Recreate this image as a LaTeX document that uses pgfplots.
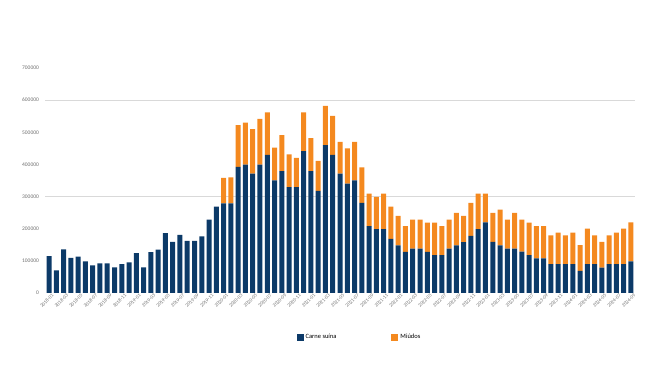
\documentclass[border=0pt]{standalone}
\usepackage{pgfplots}
\pgfplotsset{compat=1.18}
\usepackage{pgfplotstable}
\usepackage{fontspec}
\setmainfont{Carlito}
\definecolor{navy}{HTML}{0C3A68}
\definecolor{orng}{HTML}{F4891F}
\definecolor{tickgray}{HTML}{707070}
\definecolor{gridgray}{HTML}{D9D9D9}
\pgfplotstableread{
x carne miudos
1 115000 0
2 70000 0
3 136000 0
4 109000 0
5 113000 0
6 98000 0
7 86000 0
8 92000 0
9 92000 0
10 80000 0
11 90000 0
12 95000 0
13 124000 0
14 80000 0
15 127000 0
16 135000 0
17 186000 0
18 159000 0
19 181000 0
20 162000 0
21 162000 0
22 176000 0
23 228000 0
24 269000 0
25 279000 79000
26 279000 81000
27 392000 130000
28 399000 131000
29 371000 139000
30 399000 143000
31 430000 132000
32 350000 102000
33 379000 112000
34 329000 102000
35 329000 91000
36 441000 121000
37 379000 103000
38 318000 93000
39 460000 122000
40 430000 121000
41 371000 99000
42 340000 110000
43 350000 120000
44 280000 111000
45 208000 101000
46 199000 100000
47 199000 110000
48 168000 101000
49 148000 92000
50 128000 80000
51 138000 90000
52 138000 90000
53 128000 91000
54 118000 101000
55 118000 90000
56 138000 90000
57 148000 101000
58 158000 82000
59 178000 102000
60 199000 110000
61 220000 89000
62 159000 90000
63 148000 111000
64 138000 90000
65 138000 111000
66 129000 99000
67 118000 101000
68 108000 100000
69 108000 100000
70 90000 89000
71 90000 98000
72 90000 89000
73 90000 98000
74 69000 80000
75 90000 110000
76 90000 89000
77 79000 80000
78 90000 89000
79 90000 98000
80 90000 110000
81 98000 122000
}\datatable
\begin{document}
\begin{tikzpicture}
\begin{axis}[
  name=main,
  scale only axis, width=589.2pt, height=225pt,
  ybar stacked, bar width=5pt,
  xmin=0.5, xmax=81.5, ymin=0, ymax=700000,
  axis line style={draw=none},
  axis x line*=bottom,
  axis y line*=left,
  major tick length=0pt,
  ytick={0,100000,200000,300000,400000,500000,600000,700000},
  extra y ticks={300000,600000},
  extra y tick labels={},
  extra y tick style={grid=major, major grid style={gridgray, line width=0.6pt}},
  scaled y ticks=false,
  yticklabel style={/pgf/number format/fixed, /pgf/number format/1000 sep={}, /pgf/number format/assume math mode=true, font=\fontsize{5.5}{6}\selectfont, text=tickgray, xshift=-3pt},
  xtick={1,3,...,81},
  xticklabels={2018-01,2018-03,2018-05,2018-07,2018-09,2018-11,2019-01,2019-03,2019-05,2019-07,2019-09,2019-11,2020-01,2020-03,2020-05,2020-07,2020-09,2020-11,2021-01,2021-03,2021-05,2021-07,2021-09,2021-11,2022-01,2022-03,2022-05,2022-07,2022-09,2022-11,2023-01,2023-03,2023-05,2023-07,2023-09,2023-11,2024-01,2024-03,2024-05,2024-07,2024-09},
  xticklabel style={rotate=45, anchor=north east, inner sep=0.5pt, font=\fontsize{5}{5.5}\selectfont, text=tickgray, xshift=2pt, yshift=-1.5pt},
  legend style={at={(0.533,-0.196)}, anchor=center, draw=none, fill=none, font=\fontsize{6.5}{7}\selectfont, legend columns=2, /tikz/every even column/.append style={column sep=53pt}},
  legend image code/.code={\fill[#1] (0pt,-3.5pt) rectangle (7pt,3.5pt);},
]
\addplot[fill=navy, draw=none] table[x=x, y=carne] {\datatable};
\addlegendentry{Carne suína}
\addplot[fill=orng, draw=none] table[x=x, y=miudos] {\datatable};
\addlegendentry{Miúdos}
\end{axis}
\path[use as bounding box] ([shift={(-45.4pt,-73pt)}]main.south west) rectangle ([shift={(604.6pt,293pt)}]main.south west);
\end{tikzpicture}
\end{document}
